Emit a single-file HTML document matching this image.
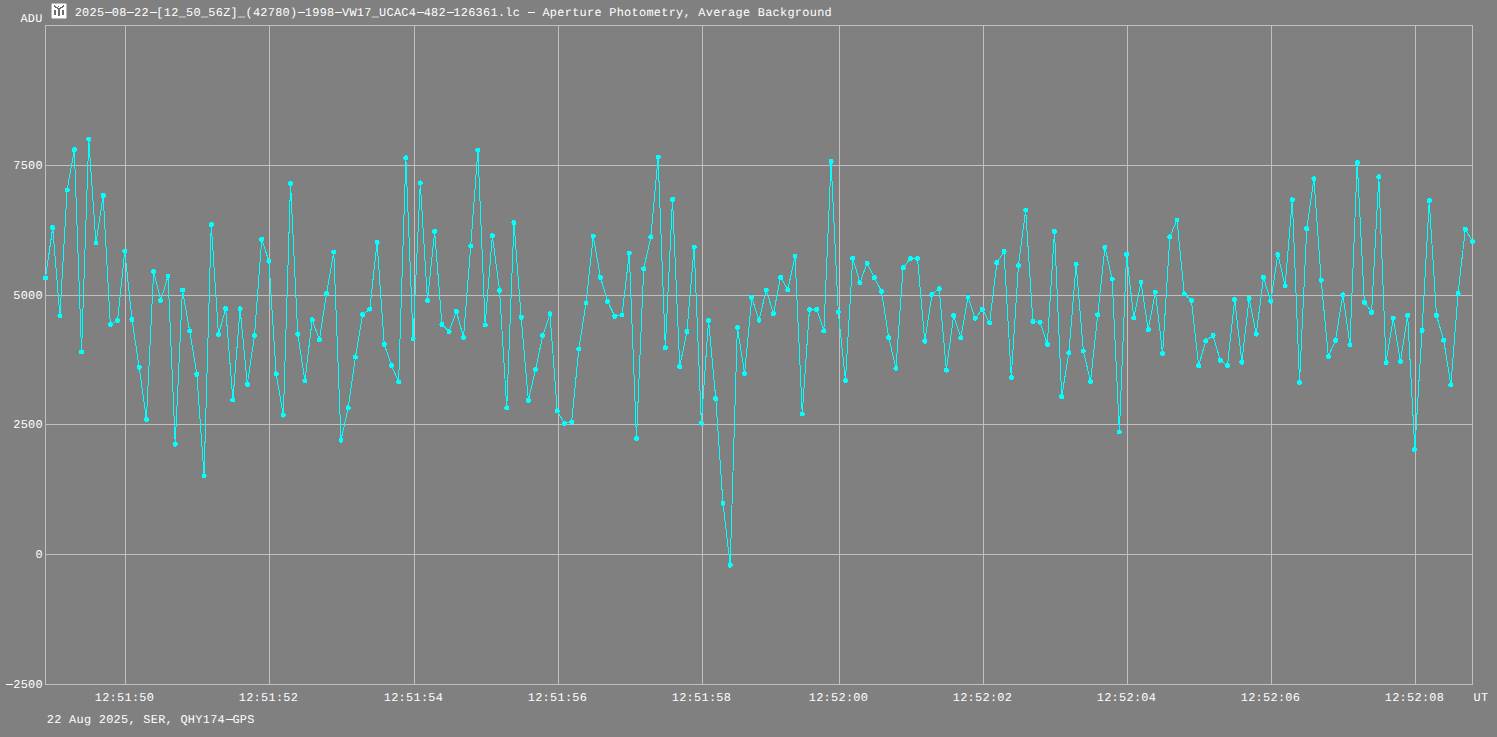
<!DOCTYPE html><html><head><meta charset="utf-8"><style>html,body{margin:0;padding:0;background:#808080;width:1497px;height:737px;overflow:hidden}svg{display:block}text{white-space:pre;text-rendering:geometricPrecision;font-family:"Liberation Mono", monospace;font-size:11.9px;fill:#ffffff;letter-spacing:0.289px}</style></head><body><svg width="1497" height="737" viewBox="0 0 1497 737"><rect x="0" y="0" width="1497" height="737" fill="#808080"/><rect x="45" y="25" width="1428" height="660" fill="#c0c0c0"/><rect x="46" y="26" width="1426" height="658" fill="#808080"/><rect x="125" y="25" width="1" height="660" fill="#c0c0c0"/><rect x="269" y="25" width="1" height="660" fill="#c0c0c0"/><rect x="414" y="25" width="1" height="660" fill="#c0c0c0"/><rect x="558" y="25" width="1" height="660" fill="#c0c0c0"/><rect x="702" y="25" width="1" height="660" fill="#c0c0c0"/><rect x="839" y="25" width="1" height="660" fill="#c0c0c0"/><rect x="983" y="25" width="1" height="660" fill="#c0c0c0"/><rect x="1127" y="25" width="1" height="660" fill="#c0c0c0"/><rect x="1271" y="25" width="1" height="660" fill="#c0c0c0"/><rect x="1415" y="25" width="1" height="660" fill="#c0c0c0"/><rect x="45" y="165" width="1428" height="1" fill="#c0c0c0"/><rect x="45" y="295" width="1428" height="1" fill="#c0c0c0"/><rect x="45" y="424" width="1428" height="1" fill="#c0c0c0"/><rect x="45" y="554" width="1428" height="1" fill="#c0c0c0"/><text x="13.28" y="169">7500</text><text x="13.28" y="299">5000</text><text x="13.28" y="428">2500</text><text x="35.57" y="558">0</text><rect x="6" y="684" width="7" height="1" fill="#ffffff"/><text x="5.85" y="688"> 2500</text><text x="94.78" y="701">12:51:50</text><text x="238.78" y="701">12:51:52</text><text x="383.78" y="701">12:51:54</text><text x="527.78" y="701">12:51:56</text><text x="671.78" y="701">12:51:58</text><text x="808.78" y="701">12:52:00</text><text x="952.78" y="701">12:52:02</text><text x="1096.78" y="701">12:52:04</text><text x="1240.78" y="701">12:52:06</text><text x="1384.78" y="701">12:52:08</text><text x="1473.60" y="701">UT</text><text x="20.40" y="22">ADU</text><rect x="105" y="12" width="7" height="1" fill="#ffffff"/><rect x="127" y="12" width="7" height="1" fill="#ffffff"/><rect x="150" y="12" width="7" height="1" fill="#ffffff"/><rect x="298" y="12" width="7" height="1" fill="#ffffff"/><rect x="335" y="12" width="7" height="1" fill="#ffffff"/><rect x="417" y="12" width="7" height="1" fill="#ffffff"/><rect x="447" y="12" width="7" height="1" fill="#ffffff"/><rect x="528" y="12" width="7" height="1" fill="#ffffff"/><text x="74.70" y="16">2025 08 22 [12_50_56Z]_(42780) 1998 VW17_UCAC4 482 126361.lc   Aperture Photometry, Average Background</text><rect x="226" y="719" width="7" height="1" fill="#ffffff"/><text x="46.80" y="723">22 Aug 2025, SER, QHY174 GPS</text><g transform="translate(51,3)" shape-rendering="crispEdges"><rect x="0" y="0" width="16" height="16" fill="#bcbcbc"/><rect x="1" y="1" width="14" height="14" fill="#ffffff"/><rect x="0" y="0" width="1" height="1" fill="#8c8c8c"/><rect x="15" y="0" width="1" height="1" fill="#8c8c8c"/><rect x="0" y="15" width="1" height="1" fill="#8c8c8c"/><rect x="15" y="15" width="1" height="1" fill="#8c8c8c"/><rect x="3" y="7" width="2" height="5" fill="#6e6e6e"/><rect x="11" y="7" width="2" height="5" fill="#6e6e6e"/><rect x="7" y="5" width="2" height="8" fill="#6e6e6e"/><rect x="7" y="3" width="1" height="1" fill="#6e6e6e"/><rect x="3" y="2" width="1" height="2" fill="#6e6e6e"/><rect x="4" y="3" width="1" height="2" fill="#6e6e6e"/><rect x="5" y="4" width="2" height="1" fill="#6e6e6e"/><rect x="6" y="5" width="1" height="1" fill="#6e6e6e"/><rect x="12" y="2" width="1" height="2" fill="#6e6e6e"/><rect x="11" y="3" width="1" height="2" fill="#6e6e6e"/><rect x="9" y="4" width="2" height="1" fill="#6e6e6e"/><rect x="9" y="5" width="1" height="1" fill="#6e6e6e"/></g><polyline points="45.50,278.00 52.71,227.70 59.91,315.80 67.12,190.00 74.33,149.70 81.54,352.00 88.74,139.20 95.95,243.00 103.16,195.50 110.36,324.50 117.57,320.50 124.78,251.10 131.98,319.50 139.19,367.30 146.40,419.40 153.61,271.50 160.81,300.50 168.02,276.10 175.23,444.20 182.43,290.00 189.64,331.00 196.85,374.40 204.06,475.70 211.26,224.60 218.47,334.70 225.68,308.70 232.88,399.70 240.09,308.70 247.30,384.40 254.51,335.50 261.71,239.30 268.92,261.30 276.13,373.80 283.33,415.10 290.54,183.50 297.75,334.10 304.95,380.90 312.16,319.90 319.37,339.80 326.58,293.40 333.78,252.10 340.99,440.10 348.20,407.80 355.40,357.10 362.61,314.80 369.82,309.10 377.03,242.40 384.23,344.30 391.44,365.30 398.65,382.00 405.85,157.90 413.06,338.80 420.27,182.90 427.47,300.50 434.68,231.40 441.89,324.50 449.10,331.70 456.30,311.30 463.51,337.60 470.72,246.00 477.92,150.00 485.13,325.00 492.34,235.80 499.55,290.40 506.75,407.80 513.96,222.60 521.17,317.40 528.37,400.30 535.58,369.30 542.79,335.50 549.99,313.80 557.20,410.90 564.41,423.40 571.62,422.00 578.82,349.00 586.03,303.00 593.24,236.20 600.44,277.20 607.65,301.50 614.86,316.40 622.07,315.00 629.27,253.10 636.48,438.50 643.69,268.80 650.89,236.90 658.10,157.10 665.31,347.80 672.52,199.20 679.72,366.70 686.93,331.50 694.14,247.00 701.34,423.10 708.55,320.50 715.76,398.60 722.96,503.10 730.17,565.30 737.38,327.40 744.59,373.40 751.79,297.50 759.00,320.30 766.21,290.00 773.41,313.80 780.62,277.20 787.83,289.70 795.04,256.20 802.24,414.00 809.45,309.30 816.66,309.30 823.86,330.70 831.07,161.50 838.28,312.10 845.48,380.50 852.69,258.20 859.90,282.60 867.11,263.30 874.31,277.60 881.52,291.40 888.73,337.60 895.93,368.30 903.14,267.80 910.35,258.60 917.56,258.40 924.76,341.20 931.97,294.40 939.18,288.70 946.38,370.10 953.59,315.80 960.80,337.80 968.01,297.10 975.21,318.20 982.42,309.30 989.63,322.90 996.83,262.70 1004.04,251.50 1011.25,377.50 1018.45,265.40 1025.66,210.00 1032.87,321.50 1040.08,322.30 1047.28,344.30 1054.49,231.20 1061.70,396.60 1068.90,352.80 1076.11,264.30 1083.32,351.00 1090.53,381.30 1097.73,314.80 1104.94,247.40 1112.15,279.00 1119.35,432.00 1126.56,254.20 1133.77,317.80 1140.97,282.20 1148.18,329.60 1155.39,292.00 1162.60,353.50 1169.80,236.90 1177.01,220.00 1184.22,293.80 1191.42,300.50 1198.63,365.70 1205.84,340.80 1213.05,335.50 1220.25,360.20 1227.46,365.70 1234.67,299.50 1241.87,362.20 1249.08,298.50 1256.29,334.10 1263.49,277.20 1270.70,301.10 1277.91,254.60 1285.12,285.70 1292.32,199.80 1299.53,382.40 1306.74,228.70 1313.94,178.80 1321.15,280.20 1328.36,356.50 1335.57,340.20 1342.77,294.80 1349.98,344.70 1357.19,162.60 1364.39,302.20 1371.60,312.30 1378.81,176.80 1386.02,362.60 1393.22,318.20 1400.43,361.60 1407.64,315.20 1414.84,449.50 1422.05,330.50 1429.26,200.60 1436.46,315.20 1443.67,340.20 1450.88,385.00 1458.09,293.40 1465.29,229.30 1472.50,241.50" fill="none" stroke="#00ffff" stroke-width="1" shape-rendering="crispEdges"/><path d="M43.00 278.00a2.5 2.5 0 1 0 5.0 0a2.5 2.5 0 1 0 -5.0 0zM50.21 227.70a2.5 2.5 0 1 0 5.0 0a2.5 2.5 0 1 0 -5.0 0zM57.41 315.80a2.5 2.5 0 1 0 5.0 0a2.5 2.5 0 1 0 -5.0 0zM64.62 190.00a2.5 2.5 0 1 0 5.0 0a2.5 2.5 0 1 0 -5.0 0zM71.83 149.70a2.5 2.5 0 1 0 5.0 0a2.5 2.5 0 1 0 -5.0 0zM79.04 352.00a2.5 2.5 0 1 0 5.0 0a2.5 2.5 0 1 0 -5.0 0zM86.24 139.20a2.5 2.5 0 1 0 5.0 0a2.5 2.5 0 1 0 -5.0 0zM93.45 243.00a2.5 2.5 0 1 0 5.0 0a2.5 2.5 0 1 0 -5.0 0zM100.66 195.50a2.5 2.5 0 1 0 5.0 0a2.5 2.5 0 1 0 -5.0 0zM107.86 324.50a2.5 2.5 0 1 0 5.0 0a2.5 2.5 0 1 0 -5.0 0zM115.07 320.50a2.5 2.5 0 1 0 5.0 0a2.5 2.5 0 1 0 -5.0 0zM122.28 251.10a2.5 2.5 0 1 0 5.0 0a2.5 2.5 0 1 0 -5.0 0zM129.48 319.50a2.5 2.5 0 1 0 5.0 0a2.5 2.5 0 1 0 -5.0 0zM136.69 367.30a2.5 2.5 0 1 0 5.0 0a2.5 2.5 0 1 0 -5.0 0zM143.90 419.40a2.5 2.5 0 1 0 5.0 0a2.5 2.5 0 1 0 -5.0 0zM151.11 271.50a2.5 2.5 0 1 0 5.0 0a2.5 2.5 0 1 0 -5.0 0zM158.31 300.50a2.5 2.5 0 1 0 5.0 0a2.5 2.5 0 1 0 -5.0 0zM165.52 276.10a2.5 2.5 0 1 0 5.0 0a2.5 2.5 0 1 0 -5.0 0zM172.73 444.20a2.5 2.5 0 1 0 5.0 0a2.5 2.5 0 1 0 -5.0 0zM179.93 290.00a2.5 2.5 0 1 0 5.0 0a2.5 2.5 0 1 0 -5.0 0zM187.14 331.00a2.5 2.5 0 1 0 5.0 0a2.5 2.5 0 1 0 -5.0 0zM194.35 374.40a2.5 2.5 0 1 0 5.0 0a2.5 2.5 0 1 0 -5.0 0zM201.56 475.70a2.5 2.5 0 1 0 5.0 0a2.5 2.5 0 1 0 -5.0 0zM208.76 224.60a2.5 2.5 0 1 0 5.0 0a2.5 2.5 0 1 0 -5.0 0zM215.97 334.70a2.5 2.5 0 1 0 5.0 0a2.5 2.5 0 1 0 -5.0 0zM223.18 308.70a2.5 2.5 0 1 0 5.0 0a2.5 2.5 0 1 0 -5.0 0zM230.38 399.70a2.5 2.5 0 1 0 5.0 0a2.5 2.5 0 1 0 -5.0 0zM237.59 308.70a2.5 2.5 0 1 0 5.0 0a2.5 2.5 0 1 0 -5.0 0zM244.80 384.40a2.5 2.5 0 1 0 5.0 0a2.5 2.5 0 1 0 -5.0 0zM252.01 335.50a2.5 2.5 0 1 0 5.0 0a2.5 2.5 0 1 0 -5.0 0zM259.21 239.30a2.5 2.5 0 1 0 5.0 0a2.5 2.5 0 1 0 -5.0 0zM266.42 261.30a2.5 2.5 0 1 0 5.0 0a2.5 2.5 0 1 0 -5.0 0zM273.63 373.80a2.5 2.5 0 1 0 5.0 0a2.5 2.5 0 1 0 -5.0 0zM280.83 415.10a2.5 2.5 0 1 0 5.0 0a2.5 2.5 0 1 0 -5.0 0zM288.04 183.50a2.5 2.5 0 1 0 5.0 0a2.5 2.5 0 1 0 -5.0 0zM295.25 334.10a2.5 2.5 0 1 0 5.0 0a2.5 2.5 0 1 0 -5.0 0zM302.45 380.90a2.5 2.5 0 1 0 5.0 0a2.5 2.5 0 1 0 -5.0 0zM309.66 319.90a2.5 2.5 0 1 0 5.0 0a2.5 2.5 0 1 0 -5.0 0zM316.87 339.80a2.5 2.5 0 1 0 5.0 0a2.5 2.5 0 1 0 -5.0 0zM324.08 293.40a2.5 2.5 0 1 0 5.0 0a2.5 2.5 0 1 0 -5.0 0zM331.28 252.10a2.5 2.5 0 1 0 5.0 0a2.5 2.5 0 1 0 -5.0 0zM338.49 440.10a2.5 2.5 0 1 0 5.0 0a2.5 2.5 0 1 0 -5.0 0zM345.70 407.80a2.5 2.5 0 1 0 5.0 0a2.5 2.5 0 1 0 -5.0 0zM352.90 357.10a2.5 2.5 0 1 0 5.0 0a2.5 2.5 0 1 0 -5.0 0zM360.11 314.80a2.5 2.5 0 1 0 5.0 0a2.5 2.5 0 1 0 -5.0 0zM367.32 309.10a2.5 2.5 0 1 0 5.0 0a2.5 2.5 0 1 0 -5.0 0zM374.53 242.40a2.5 2.5 0 1 0 5.0 0a2.5 2.5 0 1 0 -5.0 0zM381.73 344.30a2.5 2.5 0 1 0 5.0 0a2.5 2.5 0 1 0 -5.0 0zM388.94 365.30a2.5 2.5 0 1 0 5.0 0a2.5 2.5 0 1 0 -5.0 0zM396.15 382.00a2.5 2.5 0 1 0 5.0 0a2.5 2.5 0 1 0 -5.0 0zM403.35 157.90a2.5 2.5 0 1 0 5.0 0a2.5 2.5 0 1 0 -5.0 0zM410.56 338.80a2.5 2.5 0 1 0 5.0 0a2.5 2.5 0 1 0 -5.0 0zM417.77 182.90a2.5 2.5 0 1 0 5.0 0a2.5 2.5 0 1 0 -5.0 0zM424.97 300.50a2.5 2.5 0 1 0 5.0 0a2.5 2.5 0 1 0 -5.0 0zM432.18 231.40a2.5 2.5 0 1 0 5.0 0a2.5 2.5 0 1 0 -5.0 0zM439.39 324.50a2.5 2.5 0 1 0 5.0 0a2.5 2.5 0 1 0 -5.0 0zM446.60 331.70a2.5 2.5 0 1 0 5.0 0a2.5 2.5 0 1 0 -5.0 0zM453.80 311.30a2.5 2.5 0 1 0 5.0 0a2.5 2.5 0 1 0 -5.0 0zM461.01 337.60a2.5 2.5 0 1 0 5.0 0a2.5 2.5 0 1 0 -5.0 0zM468.22 246.00a2.5 2.5 0 1 0 5.0 0a2.5 2.5 0 1 0 -5.0 0zM475.42 150.00a2.5 2.5 0 1 0 5.0 0a2.5 2.5 0 1 0 -5.0 0zM482.63 325.00a2.5 2.5 0 1 0 5.0 0a2.5 2.5 0 1 0 -5.0 0zM489.84 235.80a2.5 2.5 0 1 0 5.0 0a2.5 2.5 0 1 0 -5.0 0zM497.05 290.40a2.5 2.5 0 1 0 5.0 0a2.5 2.5 0 1 0 -5.0 0zM504.25 407.80a2.5 2.5 0 1 0 5.0 0a2.5 2.5 0 1 0 -5.0 0zM511.46 222.60a2.5 2.5 0 1 0 5.0 0a2.5 2.5 0 1 0 -5.0 0zM518.67 317.40a2.5 2.5 0 1 0 5.0 0a2.5 2.5 0 1 0 -5.0 0zM525.87 400.30a2.5 2.5 0 1 0 5.0 0a2.5 2.5 0 1 0 -5.0 0zM533.08 369.30a2.5 2.5 0 1 0 5.0 0a2.5 2.5 0 1 0 -5.0 0zM540.29 335.50a2.5 2.5 0 1 0 5.0 0a2.5 2.5 0 1 0 -5.0 0zM547.49 313.80a2.5 2.5 0 1 0 5.0 0a2.5 2.5 0 1 0 -5.0 0zM554.70 410.90a2.5 2.5 0 1 0 5.0 0a2.5 2.5 0 1 0 -5.0 0zM561.91 423.40a2.5 2.5 0 1 0 5.0 0a2.5 2.5 0 1 0 -5.0 0zM569.12 422.00a2.5 2.5 0 1 0 5.0 0a2.5 2.5 0 1 0 -5.0 0zM576.32 349.00a2.5 2.5 0 1 0 5.0 0a2.5 2.5 0 1 0 -5.0 0zM583.53 303.00a2.5 2.5 0 1 0 5.0 0a2.5 2.5 0 1 0 -5.0 0zM590.74 236.20a2.5 2.5 0 1 0 5.0 0a2.5 2.5 0 1 0 -5.0 0zM597.94 277.20a2.5 2.5 0 1 0 5.0 0a2.5 2.5 0 1 0 -5.0 0zM605.15 301.50a2.5 2.5 0 1 0 5.0 0a2.5 2.5 0 1 0 -5.0 0zM612.36 316.40a2.5 2.5 0 1 0 5.0 0a2.5 2.5 0 1 0 -5.0 0zM619.57 315.00a2.5 2.5 0 1 0 5.0 0a2.5 2.5 0 1 0 -5.0 0zM626.77 253.10a2.5 2.5 0 1 0 5.0 0a2.5 2.5 0 1 0 -5.0 0zM633.98 438.50a2.5 2.5 0 1 0 5.0 0a2.5 2.5 0 1 0 -5.0 0zM641.19 268.80a2.5 2.5 0 1 0 5.0 0a2.5 2.5 0 1 0 -5.0 0zM648.39 236.90a2.5 2.5 0 1 0 5.0 0a2.5 2.5 0 1 0 -5.0 0zM655.60 157.10a2.5 2.5 0 1 0 5.0 0a2.5 2.5 0 1 0 -5.0 0zM662.81 347.80a2.5 2.5 0 1 0 5.0 0a2.5 2.5 0 1 0 -5.0 0zM670.02 199.20a2.5 2.5 0 1 0 5.0 0a2.5 2.5 0 1 0 -5.0 0zM677.22 366.70a2.5 2.5 0 1 0 5.0 0a2.5 2.5 0 1 0 -5.0 0zM684.43 331.50a2.5 2.5 0 1 0 5.0 0a2.5 2.5 0 1 0 -5.0 0zM691.64 247.00a2.5 2.5 0 1 0 5.0 0a2.5 2.5 0 1 0 -5.0 0zM698.84 423.10a2.5 2.5 0 1 0 5.0 0a2.5 2.5 0 1 0 -5.0 0zM706.05 320.50a2.5 2.5 0 1 0 5.0 0a2.5 2.5 0 1 0 -5.0 0zM713.26 398.60a2.5 2.5 0 1 0 5.0 0a2.5 2.5 0 1 0 -5.0 0zM720.46 503.10a2.5 2.5 0 1 0 5.0 0a2.5 2.5 0 1 0 -5.0 0zM727.67 565.30a2.5 2.5 0 1 0 5.0 0a2.5 2.5 0 1 0 -5.0 0zM734.88 327.40a2.5 2.5 0 1 0 5.0 0a2.5 2.5 0 1 0 -5.0 0zM742.09 373.40a2.5 2.5 0 1 0 5.0 0a2.5 2.5 0 1 0 -5.0 0zM749.29 297.50a2.5 2.5 0 1 0 5.0 0a2.5 2.5 0 1 0 -5.0 0zM756.50 320.30a2.5 2.5 0 1 0 5.0 0a2.5 2.5 0 1 0 -5.0 0zM763.71 290.00a2.5 2.5 0 1 0 5.0 0a2.5 2.5 0 1 0 -5.0 0zM770.91 313.80a2.5 2.5 0 1 0 5.0 0a2.5 2.5 0 1 0 -5.0 0zM778.12 277.20a2.5 2.5 0 1 0 5.0 0a2.5 2.5 0 1 0 -5.0 0zM785.33 289.70a2.5 2.5 0 1 0 5.0 0a2.5 2.5 0 1 0 -5.0 0zM792.54 256.20a2.5 2.5 0 1 0 5.0 0a2.5 2.5 0 1 0 -5.0 0zM799.74 414.00a2.5 2.5 0 1 0 5.0 0a2.5 2.5 0 1 0 -5.0 0zM806.95 309.30a2.5 2.5 0 1 0 5.0 0a2.5 2.5 0 1 0 -5.0 0zM814.16 309.30a2.5 2.5 0 1 0 5.0 0a2.5 2.5 0 1 0 -5.0 0zM821.36 330.70a2.5 2.5 0 1 0 5.0 0a2.5 2.5 0 1 0 -5.0 0zM828.57 161.50a2.5 2.5 0 1 0 5.0 0a2.5 2.5 0 1 0 -5.0 0zM835.78 312.10a2.5 2.5 0 1 0 5.0 0a2.5 2.5 0 1 0 -5.0 0zM842.98 380.50a2.5 2.5 0 1 0 5.0 0a2.5 2.5 0 1 0 -5.0 0zM850.19 258.20a2.5 2.5 0 1 0 5.0 0a2.5 2.5 0 1 0 -5.0 0zM857.40 282.60a2.5 2.5 0 1 0 5.0 0a2.5 2.5 0 1 0 -5.0 0zM864.61 263.30a2.5 2.5 0 1 0 5.0 0a2.5 2.5 0 1 0 -5.0 0zM871.81 277.60a2.5 2.5 0 1 0 5.0 0a2.5 2.5 0 1 0 -5.0 0zM879.02 291.40a2.5 2.5 0 1 0 5.0 0a2.5 2.5 0 1 0 -5.0 0zM886.23 337.60a2.5 2.5 0 1 0 5.0 0a2.5 2.5 0 1 0 -5.0 0zM893.43 368.30a2.5 2.5 0 1 0 5.0 0a2.5 2.5 0 1 0 -5.0 0zM900.64 267.80a2.5 2.5 0 1 0 5.0 0a2.5 2.5 0 1 0 -5.0 0zM907.85 258.60a2.5 2.5 0 1 0 5.0 0a2.5 2.5 0 1 0 -5.0 0zM915.06 258.40a2.5 2.5 0 1 0 5.0 0a2.5 2.5 0 1 0 -5.0 0zM922.26 341.20a2.5 2.5 0 1 0 5.0 0a2.5 2.5 0 1 0 -5.0 0zM929.47 294.40a2.5 2.5 0 1 0 5.0 0a2.5 2.5 0 1 0 -5.0 0zM936.68 288.70a2.5 2.5 0 1 0 5.0 0a2.5 2.5 0 1 0 -5.0 0zM943.88 370.10a2.5 2.5 0 1 0 5.0 0a2.5 2.5 0 1 0 -5.0 0zM951.09 315.80a2.5 2.5 0 1 0 5.0 0a2.5 2.5 0 1 0 -5.0 0zM958.30 337.80a2.5 2.5 0 1 0 5.0 0a2.5 2.5 0 1 0 -5.0 0zM965.51 297.10a2.5 2.5 0 1 0 5.0 0a2.5 2.5 0 1 0 -5.0 0zM972.71 318.20a2.5 2.5 0 1 0 5.0 0a2.5 2.5 0 1 0 -5.0 0zM979.92 309.30a2.5 2.5 0 1 0 5.0 0a2.5 2.5 0 1 0 -5.0 0zM987.13 322.90a2.5 2.5 0 1 0 5.0 0a2.5 2.5 0 1 0 -5.0 0zM994.33 262.70a2.5 2.5 0 1 0 5.0 0a2.5 2.5 0 1 0 -5.0 0zM1001.54 251.50a2.5 2.5 0 1 0 5.0 0a2.5 2.5 0 1 0 -5.0 0zM1008.75 377.50a2.5 2.5 0 1 0 5.0 0a2.5 2.5 0 1 0 -5.0 0zM1015.95 265.40a2.5 2.5 0 1 0 5.0 0a2.5 2.5 0 1 0 -5.0 0zM1023.16 210.00a2.5 2.5 0 1 0 5.0 0a2.5 2.5 0 1 0 -5.0 0zM1030.37 321.50a2.5 2.5 0 1 0 5.0 0a2.5 2.5 0 1 0 -5.0 0zM1037.58 322.30a2.5 2.5 0 1 0 5.0 0a2.5 2.5 0 1 0 -5.0 0zM1044.78 344.30a2.5 2.5 0 1 0 5.0 0a2.5 2.5 0 1 0 -5.0 0zM1051.99 231.20a2.5 2.5 0 1 0 5.0 0a2.5 2.5 0 1 0 -5.0 0zM1059.20 396.60a2.5 2.5 0 1 0 5.0 0a2.5 2.5 0 1 0 -5.0 0zM1066.40 352.80a2.5 2.5 0 1 0 5.0 0a2.5 2.5 0 1 0 -5.0 0zM1073.61 264.30a2.5 2.5 0 1 0 5.0 0a2.5 2.5 0 1 0 -5.0 0zM1080.82 351.00a2.5 2.5 0 1 0 5.0 0a2.5 2.5 0 1 0 -5.0 0zM1088.03 381.30a2.5 2.5 0 1 0 5.0 0a2.5 2.5 0 1 0 -5.0 0zM1095.23 314.80a2.5 2.5 0 1 0 5.0 0a2.5 2.5 0 1 0 -5.0 0zM1102.44 247.40a2.5 2.5 0 1 0 5.0 0a2.5 2.5 0 1 0 -5.0 0zM1109.65 279.00a2.5 2.5 0 1 0 5.0 0a2.5 2.5 0 1 0 -5.0 0zM1116.85 432.00a2.5 2.5 0 1 0 5.0 0a2.5 2.5 0 1 0 -5.0 0zM1124.06 254.20a2.5 2.5 0 1 0 5.0 0a2.5 2.5 0 1 0 -5.0 0zM1131.27 317.80a2.5 2.5 0 1 0 5.0 0a2.5 2.5 0 1 0 -5.0 0zM1138.47 282.20a2.5 2.5 0 1 0 5.0 0a2.5 2.5 0 1 0 -5.0 0zM1145.68 329.60a2.5 2.5 0 1 0 5.0 0a2.5 2.5 0 1 0 -5.0 0zM1152.89 292.00a2.5 2.5 0 1 0 5.0 0a2.5 2.5 0 1 0 -5.0 0zM1160.10 353.50a2.5 2.5 0 1 0 5.0 0a2.5 2.5 0 1 0 -5.0 0zM1167.30 236.90a2.5 2.5 0 1 0 5.0 0a2.5 2.5 0 1 0 -5.0 0zM1174.51 220.00a2.5 2.5 0 1 0 5.0 0a2.5 2.5 0 1 0 -5.0 0zM1181.72 293.80a2.5 2.5 0 1 0 5.0 0a2.5 2.5 0 1 0 -5.0 0zM1188.92 300.50a2.5 2.5 0 1 0 5.0 0a2.5 2.5 0 1 0 -5.0 0zM1196.13 365.70a2.5 2.5 0 1 0 5.0 0a2.5 2.5 0 1 0 -5.0 0zM1203.34 340.80a2.5 2.5 0 1 0 5.0 0a2.5 2.5 0 1 0 -5.0 0zM1210.55 335.50a2.5 2.5 0 1 0 5.0 0a2.5 2.5 0 1 0 -5.0 0zM1217.75 360.20a2.5 2.5 0 1 0 5.0 0a2.5 2.5 0 1 0 -5.0 0zM1224.96 365.70a2.5 2.5 0 1 0 5.0 0a2.5 2.5 0 1 0 -5.0 0zM1232.17 299.50a2.5 2.5 0 1 0 5.0 0a2.5 2.5 0 1 0 -5.0 0zM1239.37 362.20a2.5 2.5 0 1 0 5.0 0a2.5 2.5 0 1 0 -5.0 0zM1246.58 298.50a2.5 2.5 0 1 0 5.0 0a2.5 2.5 0 1 0 -5.0 0zM1253.79 334.10a2.5 2.5 0 1 0 5.0 0a2.5 2.5 0 1 0 -5.0 0zM1260.99 277.20a2.5 2.5 0 1 0 5.0 0a2.5 2.5 0 1 0 -5.0 0zM1268.20 301.10a2.5 2.5 0 1 0 5.0 0a2.5 2.5 0 1 0 -5.0 0zM1275.41 254.60a2.5 2.5 0 1 0 5.0 0a2.5 2.5 0 1 0 -5.0 0zM1282.62 285.70a2.5 2.5 0 1 0 5.0 0a2.5 2.5 0 1 0 -5.0 0zM1289.82 199.80a2.5 2.5 0 1 0 5.0 0a2.5 2.5 0 1 0 -5.0 0zM1297.03 382.40a2.5 2.5 0 1 0 5.0 0a2.5 2.5 0 1 0 -5.0 0zM1304.24 228.70a2.5 2.5 0 1 0 5.0 0a2.5 2.5 0 1 0 -5.0 0zM1311.44 178.80a2.5 2.5 0 1 0 5.0 0a2.5 2.5 0 1 0 -5.0 0zM1318.65 280.20a2.5 2.5 0 1 0 5.0 0a2.5 2.5 0 1 0 -5.0 0zM1325.86 356.50a2.5 2.5 0 1 0 5.0 0a2.5 2.5 0 1 0 -5.0 0zM1333.07 340.20a2.5 2.5 0 1 0 5.0 0a2.5 2.5 0 1 0 -5.0 0zM1340.27 294.80a2.5 2.5 0 1 0 5.0 0a2.5 2.5 0 1 0 -5.0 0zM1347.48 344.70a2.5 2.5 0 1 0 5.0 0a2.5 2.5 0 1 0 -5.0 0zM1354.69 162.60a2.5 2.5 0 1 0 5.0 0a2.5 2.5 0 1 0 -5.0 0zM1361.89 302.20a2.5 2.5 0 1 0 5.0 0a2.5 2.5 0 1 0 -5.0 0zM1369.10 312.30a2.5 2.5 0 1 0 5.0 0a2.5 2.5 0 1 0 -5.0 0zM1376.31 176.80a2.5 2.5 0 1 0 5.0 0a2.5 2.5 0 1 0 -5.0 0zM1383.52 362.60a2.5 2.5 0 1 0 5.0 0a2.5 2.5 0 1 0 -5.0 0zM1390.72 318.20a2.5 2.5 0 1 0 5.0 0a2.5 2.5 0 1 0 -5.0 0zM1397.93 361.60a2.5 2.5 0 1 0 5.0 0a2.5 2.5 0 1 0 -5.0 0zM1405.14 315.20a2.5 2.5 0 1 0 5.0 0a2.5 2.5 0 1 0 -5.0 0zM1412.34 449.50a2.5 2.5 0 1 0 5.0 0a2.5 2.5 0 1 0 -5.0 0zM1419.55 330.50a2.5 2.5 0 1 0 5.0 0a2.5 2.5 0 1 0 -5.0 0zM1426.76 200.60a2.5 2.5 0 1 0 5.0 0a2.5 2.5 0 1 0 -5.0 0zM1433.96 315.20a2.5 2.5 0 1 0 5.0 0a2.5 2.5 0 1 0 -5.0 0zM1441.17 340.20a2.5 2.5 0 1 0 5.0 0a2.5 2.5 0 1 0 -5.0 0zM1448.38 385.00a2.5 2.5 0 1 0 5.0 0a2.5 2.5 0 1 0 -5.0 0zM1455.59 293.40a2.5 2.5 0 1 0 5.0 0a2.5 2.5 0 1 0 -5.0 0zM1462.79 229.30a2.5 2.5 0 1 0 5.0 0a2.5 2.5 0 1 0 -5.0 0zM1470.00 241.50a2.5 2.5 0 1 0 5.0 0a2.5 2.5 0 1 0 -5.0 0z" fill="#00ffff" shape-rendering="crispEdges"/></svg></body></html>
